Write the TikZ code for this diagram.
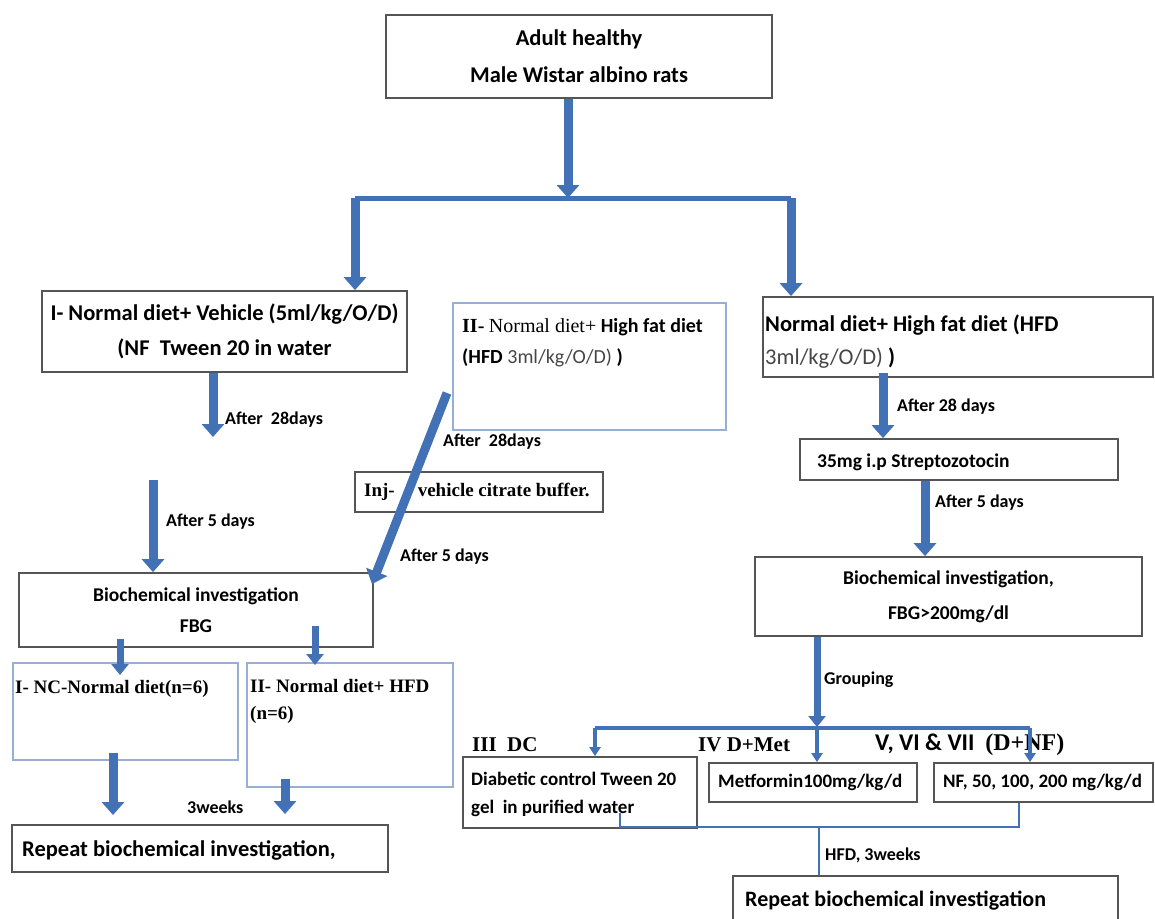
\documentclass[tikz,border=0pt]{standalone}
\usepackage{fontspec}
\setmainfont{Carlito}
\newfontfamily\tnr{Liberation Serif}
\usetikzlibrary{arrows.meta,calc}
\definecolor{arrowc}{RGB}{66,113,181}
\definecolor{boxc}{RGB}{85,85,85}
\definecolor{lboxc}{RGB}{150,175,210}
\definecolor{txtg}{RGB}{70,70,70}
\newcommand\fsz[2]{\fontsize{#1}{#2}\selectfont}
\begin{document}
\begin{tikzpicture}[x=1pt,y=-1pt,
 every node/.style={inner sep=0pt},
 box/.style={draw=boxc, line width=1.8pt, rectangle, fill=white},
 lbox/.style={draw=lboxc, line width=1.4pt, rectangle, fill=white},
 bigarrow/.style={draw=arrowc, line width=9pt, -{Triangle[width=22pt,length=13pt]}},
 medarrow/.style={draw=arrowc, line width=7pt, -{Triangle[width=17pt,length=11pt]}},
 smallarrow/.style={draw=arrowc, line width=4pt, -{Triangle[width=11pt,length=9pt]}},
 hline/.style={draw=arrowc, line width=5pt},
 gline/.style={draw=arrowc, line width=3.5pt},
 thinline/.style={draw=arrowc, line width=2.8pt},
 lbl/.style={font=\bfseries\fsz{18}{20}, anchor=west},
 txt/.style={anchor=west, align=left}]
\clip (0,0) rectangle (1155,918);
\fill[white] (0,0) rectangle (1155,918);

% ---- boxes ----
\node[box, minimum width=386pt, minimum height=83pt, align=center, font=\bfseries\fsz{22.5}{37}] (top) at (579,56.5) {Adult healthy\\Male Wistar albino rats};
\node[box, minimum width=365pt, minimum height=81pt, align=center, font=\bfseries\fsz{22.5}{35}] (L1) at (224.5,331.5) {I- Normal diet+ Vehicle (5ml/kg/O/D)\\(NF\ \ Tween 20 in water};
\node[lbox, minimum width=273pt, minimum height=127pt] (M) at (589.5,366.5) {};
\node[txt, font=\fsz{20}{31}] (Mt) at (462,342.5) {{\tnr\bfseries II-} {\tnr Normal diet+} {\bfseries High fat diet}\\{\bfseries (HFD} {\color{txtg}3ml/kg/O/D)} {\bfseries )}};
\node[box, minimum width=390pt, minimum height=80pt] (R1) at (958,337) {};
\node[txt, font=\bfseries\fsz{22.5}{33}] (R1t) at (765,341.5) {Normal diet+ High fat diet (HFD\\{\mdseries\color{txtg}3ml/kg/O/D)} )};
\node[box, minimum width=248pt, minimum height=40pt] (inj) at (479,492) {};
\node[txt, font=\tnr\bfseries\fsz{19}{22}] (injt) at (364,492) {Inj-\hspace{23pt}vehicle citrate buffer.};
\node[box, minimum width=318pt, minimum height=41pt] (strep) at (959,459.5) {};
\node[txt, font=\bfseries\fsz{19.5}{22}] (strept) at (817,462) {35mg i.p Streptozotocin};
\node[box, minimum width=354pt, minimum height=74pt, align=center, font=\bfseries\fsz{19.5}{31}] (LB) at (196,610) {Biochemical investigation\\FBG};
\node[box, minimum width=387pt, minimum height=79pt, align=center, font=\bfseries\fsz{19.5}{35}] (RB) at (948.5,596.5) {Biochemical investigation,\\FBG>200mg/dl};
\node[lbox, minimum width=225pt, minimum height=97pt] (NC) at (125.5,711.5) {};
\node[txt, font=\tnr\bfseries\fsz{19}{22}] (NCt) at (15,689) {I- NC-Normal diet(n=6)};
\node[lbox, minimum width=206pt, minimum height=124pt] (HG) at (350,725) {};
\node[txt, font=\tnr\bfseries\fsz{19}{27}] (HGt) at (250,701.5) {II- Normal diet+ HFD\\(n=6)};
\node[box, minimum width=376pt, minimum height=47pt] (RepL) at (200,848.5) {};
\node[txt, font=\bfseries\fsz{22.5}{24}] (RepLt) at (22,850) {Repeat biochemical investigation,};
\node[box, minimum width=234pt, minimum height=71pt] (DC) at (580,792.5) {};
\node[txt, font=\bfseries\fsz{19}{28}] (DCt) at (471,794) {Diabetic control Tween 20\\gel\ \ in purified water};
\node[box, minimum width=208pt, minimum height=39pt] (Met) at (813,782.5) {};
\node[txt, font=\bfseries\fsz{19}{22}] (Mett) at (718,782) {Metformin100mg/kg/d};
\node[box, minimum width=219pt, minimum height=39pt] (NF) at (1043.5,782.5) {};
\node[txt, font=\bfseries\fsz{19}{22}] (NFt) at (943,782) {NF, 50, 100, 200 mg/kg/d};
\node[box, minimum width=385pt, minimum height=48pt] (RepR) at (925.5,900) {};
\node[txt, font=\bfseries\fsz{22}{24}] (RepRt) at (745,901) {Repeat biochemical investigation};

% ---- group headings ----
\node[txt, font=\tnr\bfseries\fsz{21}{24}] (g3) at (472,745) {III\ \ DC};
\node[txt, font=\tnr\bfseries\fsz{21}{24}] (g4) at (698,745) {IV D+Met};
\node[txt, font=\fsz{24}{26}] (g5) at (875,745) {{\bfseries V, VI \& VII}\ \ {\tnr\bfseries (D+NF)}};

% ---- labels ----
\node[lbl] (l1) at (225,420) {After\ \ 28days};
\node[lbl] (l2) at (166,522) {After 5 days};
\node[lbl] (l3) at (443,442) {After\ \ 28days};
\node[lbl] (l4) at (400,557) {After 5 days};
\node[lbl] (l5) at (897,407) {After 28 days};
\node[lbl] (l6) at (935,503) {After 5 days};
\node[lbl] (l7) at (824,680) {Grouping};
\node[lbl] (l8) at (187,807) {3weeks};
\node[lbl] (l9) at (825,855) {HFD, 3weeks};

% ---- coordinates ----
\coordinate (jC) at (568,198);
\coordinate (jL) at (355,198);
\coordinate (jR) at (791,198);
\coordinate (a1e) at (213,437);
\coordinate (a2s) at (153,480);
\coordinate (dgs) at (447,393);
\coordinate (dge) at (372,584);
\coordinate (b1e) at (120,675);
\coordinate (b2e) at (315,665);
\coordinate (c1e) at (113,815);
\coordinate (c2e) at (285,814);
\coordinate (d1) at (883,0);
\coordinate (d2) at (925,0);
\coordinate (g) at (817,727);
\coordinate (gL) at (595,728);
\coordinate (gR) at (1030,728);
\coordinate (h1) at (620,827);
\coordinate (h2) at (1019,827);
\coordinate (hc) at (819,827);

% ---- connectors ----
\draw[hline] (jL) -- (jR);
\draw[bigarrow] (top.south -| jC) -- (jC);
\draw[bigarrow] (jL) -- (jL |- L1.north);
\draw[bigarrow] (jR) -- (jR |- R1.north);
\draw[bigarrow] (L1.south -| a1e) -- (a1e);
\draw[bigarrow] (a2s) -- (a2s |- LB.north);
\draw[bigarrow] (dgs) -- (dge);
\draw[medarrow] ($(LB.south -| b1e)+(0,-9)$) -- (b1e);
\draw[medarrow] ($(LB.south -| b2e)+(0,-22)$) -- (b2e);
\draw[bigarrow] ($(NC.south -| c1e)+(0,-8)$) -- (c1e);
\draw[bigarrow] ($(HG.south -| c2e)+(0,-9)$) -- (c2e);
\draw[bigarrow] ($(R1.south -| d1)+(0,-5)$) -- (d1 |- strep.north);
\draw[bigarrow] (strep.south -| d2) -- (d2 |- RB.north);
\draw[gline] (gL) -- (gR);
\draw[medarrow] (RB.south -| g) -- (g);
\draw[smallarrow] (gL) -- (gL |- DC.north);
\draw[smallarrow] (g) -- (g |- Met.north);
\draw[smallarrow] (gR) -- (gR |- NF.north);
\draw[thinline] ($(DC.south -| h1)+(0,-16)$) -- (h1) -- (h2) -- (h2 |- NF.south);
\draw[draw=arrowc, line width=2.4pt] (hc) -- (hc |- RepR.north);
\end{tikzpicture}
\end{document}
